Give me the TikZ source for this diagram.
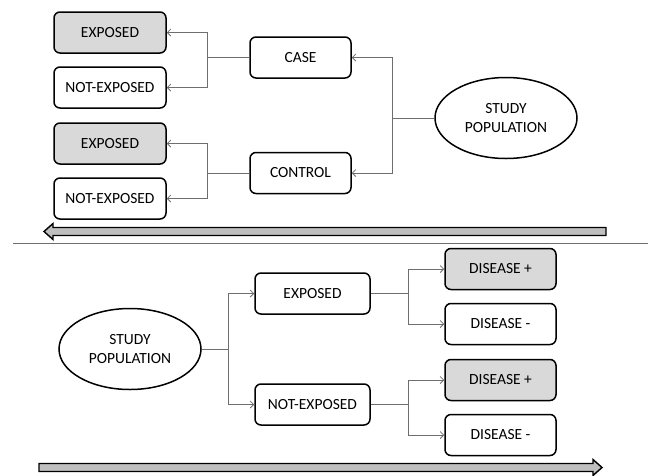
\documentclass[tikz,border=0pt]{standalone}
\usepackage{fontspec}
\setmainfont{Carlito}
\usepackage{tikz}
\usetikzlibrary{shapes.geometric}
\usetikzlibrary{arrows.meta}
\definecolor{boxgray}{RGB}{217,217,217}
\definecolor{bargray}{RGB}{191,191,191}
\definecolor{linegray}{RGB}{110,110,110}

\begin{document}
\begin{tikzpicture}[x=1pt, y=-1pt,
    font=\fontsize{15.5}{19}\selectfont,
    plainbox/.style={draw, rectangle, rounded corners=6pt, line width=1.5pt,
        minimum height=41pt, inner sep=0pt},
    greybox/.style={plainbox, fill=boxgray},
    pop/.style={draw, ellipse, line width=1.5pt, minimum width=142pt,
        minimum height=81pt, align=center, inner sep=0pt},
    conn/.style={draw=linegray, line width=0.8pt,
        -{Straight Barb[length=3.5pt,width=7pt]}},
    bigarrow/.style={draw=black, fill=bargray, line width=1.4pt}]
    \useasboundingbox (0,0) rectangle (648,475);

    % Case-control study
    \node[greybox, minimum width=112pt] (e1) at (110,32.5) {EXPOSED};
    \node[plainbox, minimum width=112pt] (n1) at (110,87.5) {NOT-EXPOSED};
    \node[greybox, minimum width=112pt] (e2) at (110,143.5) {EXPOSED};
    \node[plainbox, minimum width=112pt] (n2) at (110,198.5) {NOT-EXPOSED};
    \node[plainbox, minimum width=101pt] (case) at (300.5,57.5) {CASE};
    \node[plainbox, minimum width=101pt] (control) at (300.5,173) {CONTROL};
    \node[pop] (popA) at (506,118) {STUDY\\POPULATION};

    % Connections
    \draw[conn] (popA.west) -- ++(-42,0) |- (case.east);
    \draw[conn] (popA.west) -- ++(-42,0) |- (control.east);
    \draw[conn] (case.west) -- ++(-42,0) |- (e1.east);
    \draw[conn] (case.west) -- ++(-42,0) |- (n1.east);
    \draw[conn] (control.west) -- ++(-42,0) |- (e2.east);
    \draw[conn] (control.west) -- ++(-42,0) |- (n2.east);

    % Time arrow (backwards)
    \draw[bigarrow] (606,227.5) -- (53,227.5) -- (53,223.5) -- (44,231.5)
        -- (53,239.5) -- (53,235.5) -- (606,235.5) -- cycle;

    % Separator
    \draw[linegray, line width=0.8pt] (13,243) -- (648,243);

    % Cohort study
    \node[pop] (popB) at (130,349) {STUDY\\POPULATION};
    \node[plainbox, minimum width=115pt] (ex) at (312.5,293.5) {EXPOSED};
    \node[plainbox, minimum width=115pt] (nx) at (312.5,404.5) {NOT-EXPOSED};
    \foreach \i/\y in {1/269, 3/380} {
        \node[greybox, minimum width=111pt] (d\i) at (500.5,\y) {DISEASE +};
    }
    \foreach \i/\y in {2/324, 4/435} {
        \node[plainbox, minimum width=111pt] (d\i) at (500.5,\y) {DISEASE -};
    }

    % Connections
    \draw[conn] (popB.east) -- ++(27,0) |- (ex.west);
    \draw[conn] (popB.east) -- ++(27,0) |- (nx.west);
    \draw[conn] (ex.east) -- ++(38,0) |- (d1.west);
    \draw[conn] (ex.east) -- ++(38,0) |- (d2.west);
    \draw[conn] (nx.east) -- ++(38,0) |- (d3.west);
    \draw[conn] (nx.east) -- ++(38,0) |- (d4.west);

    % Time arrow (forwards)
    \draw[bigarrow] (39,463.5) -- (593,463.5) -- (593,459.5) -- (602,467.5)
        -- (593,475.5) -- (593,471.5) -- (39,471.5) -- cycle;
\end{tikzpicture}
\end{document}
